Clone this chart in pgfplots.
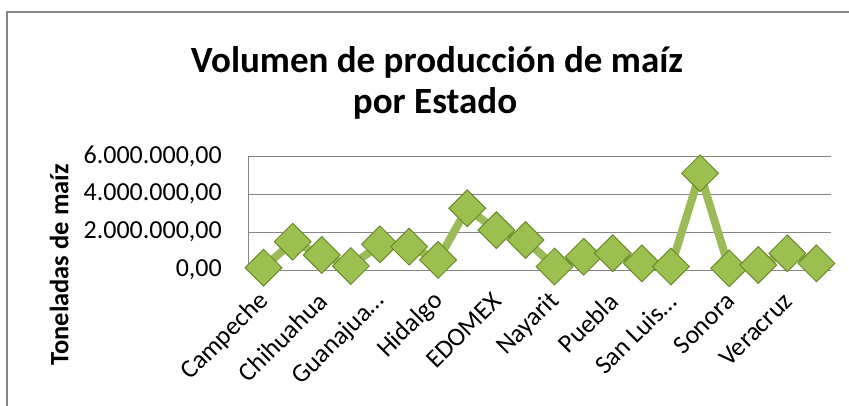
\documentclass[border=0pt]{standalone}
\usepackage{pgfplots}
\pgfplotsset{compat=1.18}
\usepackage{fontspec}
\setmainfont{Carlito}
\definecolor{gline}{HTML}{9BBB59}
\definecolor{mfill}{HTML}{9CC04F}
\definecolor{mdraw}{HTML}{6A8A2C}
\definecolor{gridc}{HTML}{868686}
\begin{document}
\begin{tikzpicture}[x=1pt,y=1pt]
\useasboundingbox (0,0) rectangle (849,405);
\draw[gridc, line width=1.2pt] (7,-5) -- (7,393) -- (860,393);
\node[anchor=base, font=\fontsize{26}{30}\selectfont\bfseries, text=black!70] at (419,405.5) {Gráfico 6};
\node[anchor=base, font=\fontsize{37}{41}\selectfont\bfseries] at (437,332) {Volumen de producción de maíz};
\node[anchor=base, font=\fontsize{37}{41}\selectfont\bfseries] at (435,291) {por Estado};
\begin{axis}[
  at={(249pt,135pt)}, anchor=south west,
  width=582pt, height=114pt, scale only axis,
  xmin=-0.5, xmax=19.5, ymin=0, ymax=6000000,
  clip=false,
  scaled y ticks=false,
  axis lines*=left,
  axis line style={draw=gridc, line width=1pt},
  major tick length=0pt,
  ymajorgrids, grid style={draw=gridc, line width=1pt},
  ytick={0,2000000,4000000,6000000},
  yticklabels={{0,00},{2.000.000,00},{4.000.000,00},{6.000.000,00}},
  yticklabel style={font=\fontsize{26}{30}\selectfont, inner sep=0pt, anchor=east, xshift=-27pt},
  xtick={0,2,...,18},
  xticklabels={Campeche,Chihuahua,Guanajua…,Hidalgo,EDOMEX,Nayarit,Puebla,San Luis…,Sonora,Veracruz},
  xticklabel style={font=\fontsize{26}{30}\selectfont, inner sep=0pt, yshift=-27pt, xshift=1pt, rotate=45, anchor=east},
  ylabel={Toneladas de maíz},
  ylabel style={font=\fontsize{26.5}{30}\selectfont\bfseries, at={(axis description cs:-0.326,0.044)}, anchor=center},
]
\addplot[gline, line width=8pt, mark=square*, mark size=13pt,
  mark options={rotate=45, fill=mfill, draw=mdraw, line width=1pt}]
coordinates {
(0,120000) (1,1490000) (2,790000) (3,210000) (4,1350000)
(5,1230000) (6,530000) (7,3250000) (8,2100000) (9,1580000)
(10,180000) (11,700000) (12,880000) (13,350000) (14,180000)
(15,5090000) (16,90000) (17,260000) (18,880000) (19,350000)
};
\end{axis}
\end{tikzpicture}
\end{document}
